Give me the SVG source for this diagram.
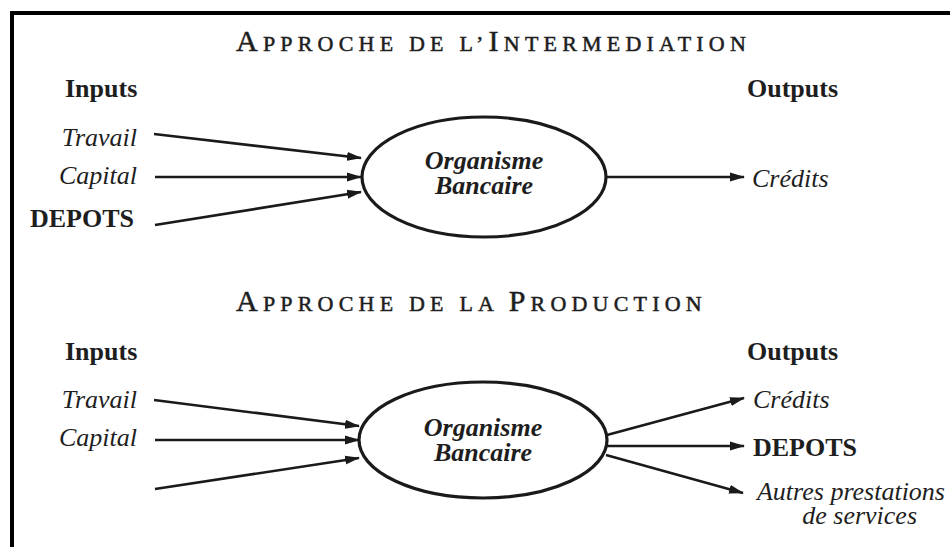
<svg xmlns="http://www.w3.org/2000/svg" width="950" height="547" viewBox="0 0 950 547">
<style>
  .t { font-family: "Liberation Serif", "Times New Roman", serif; fill: #1e1e1e; }
  .title { font-size: 22px; letter-spacing: 5.2px; stroke: #1e1e1e; stroke-width: 0.5px; }
  .big { font-size: 30px; }
  .hdr { font-size: 26px; font-weight: bold; }
  .it { font-size: 26px; font-style: italic; }
  .bd { font-size: 26px; font-weight: bold; }
  .bi { font-size: 26px; font-weight: bold; font-style: italic; }
  .node { fill: none; stroke: #1a1a1a; stroke-width: 3.2; }
  .arr { stroke: #1a1a1a; stroke-width: 2.6; fill: none; marker-end: url(#ah); }
</style>
<defs>
  <marker id="ah" markerUnits="userSpaceOnUse" markerWidth="16" markerHeight="10" refX="14" refY="5" orient="auto">
    <path d="M0,0.5 L15,5 L0,9.5 z" fill="#1a1a1a"/>
  </marker>
</defs>
<rect x="0" y="0" width="950" height="547" fill="#ffffff"/>
<g id="frame">
  <line x1="10" y1="13" x2="950" y2="13" stroke="#000" stroke-width="4"/>
  <line x1="12" y1="11" x2="12" y2="547" stroke="#000" stroke-width="4"/>
</g>

<g id="titles">
  <text class="t title" x="236" y="51"><tspan class="big">A</tspan>PPROCHE DE L’<tspan class="big">I</tspan>NTERMEDIATION</text>
  <text class="t title" x="236" y="311"><tspan class="big">A</tspan>PPROCHE DE LA <tspan class="big">P</tspan>RODUCTION</text>
</g>

<g id="labels-top">
  <text class="t hdr" x="65" y="97">Inputs</text>
  <text class="t hdr" x="747" y="97">Outputs</text>
  <text class="t it" x="137" y="146" text-anchor="end">Travail</text>
  <text class="t it" x="137" y="184" text-anchor="end">Capital</text>
  <text class="t bd" x="134" y="227" text-anchor="end">DEPOTS</text>
  <text class="t it" x="752" y="187">Crédits</text>
</g>

<g id="node-top">
  <ellipse class="node" cx="484" cy="177" rx="122" ry="60"/>
  <text class="t bi" x="484" y="169" text-anchor="middle">Organisme</text>
  <text class="t bi" x="484" y="194" text-anchor="middle">Bancaire</text>
</g>

<g id="labels-bottom">
  <text class="t hdr" x="65" y="360">Inputs</text>
  <text class="t hdr" x="747" y="360">Outputs</text>
  <text class="t it" x="137" y="408" text-anchor="end">Travail</text>
  <text class="t it" x="137" y="446" text-anchor="end">Capital</text>
  <text class="t it" x="753" y="408">Crédits</text>
  <text class="t bd" x="753" y="456">DEPOTS</text>
  <text class="t it" x="945" y="500" text-anchor="end">Autres prestations</text>
  <text class="t it" x="917" y="524" text-anchor="end">de services</text>
</g>

<g id="node-bottom">
  <ellipse class="node" cx="483" cy="440" rx="124" ry="58"/>
  <text class="t bi" x="483" y="436" text-anchor="middle">Organisme</text>
  <text class="t bi" x="483" y="461" text-anchor="middle">Bancaire</text>
</g>

<g id="connectors">
  <line class="arr" x1="154" y1="134" x2="361" y2="158"/>
  <line class="arr" x1="155" y1="177" x2="361" y2="177"/>
  <line class="arr" x1="155" y1="225" x2="361" y2="192"/>
  <line class="arr" x1="606" y1="177" x2="744" y2="177"/>

  <line class="arr" x1="154" y1="400" x2="359" y2="426"/>
  <line class="arr" x1="155" y1="440" x2="359" y2="440"/>
  <line class="arr" x1="155" y1="489" x2="359" y2="458"/>
  <line class="arr" x1="607" y1="435" x2="744" y2="398"/>
  <line class="arr" x1="607" y1="446" x2="744" y2="446"/>
  <line class="arr" x1="606" y1="455" x2="743" y2="493"/>
</g>
</svg>
